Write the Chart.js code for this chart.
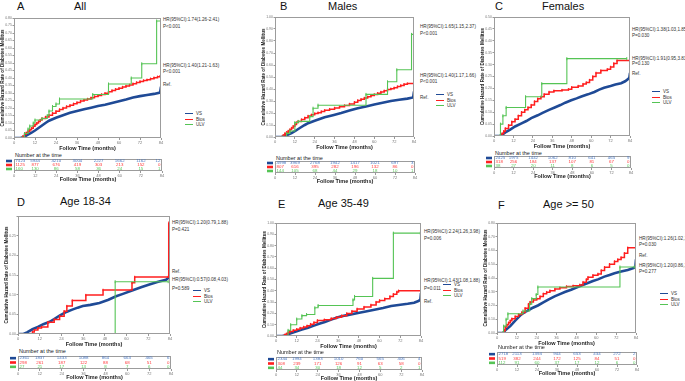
<!DOCTYPE html>
<html>
<head>
<meta charset="utf-8">
<script src="https://cdn.jsdelivr.net/npm/chart.js@4.4.1/dist/chart.umd.min.js"></script>
<style>
  body { margin: 0; background: #fff; width: 685px; height: 381px; overflow: hidden; position: relative; font-family: "Liberation Sans", Arial, sans-serif; }
  canvas { position: absolute; }
  .t { position: absolute; white-space: nowrap; line-height: 1; }
  .big { font-size: 11px; color: #111; }
  .note { font-size: 4.6px; color: #333; }
  .nat { font-size: 5.5px; color: #222; }
  .leg { position: absolute; font-size: 4.5px; color: #333; line-height: 1; white-space: nowrap; }
  .sym { display: inline-block; width: 8px; height: 1px; vertical-align: middle; margin-right: 3px; position: relative; }
</style>
</head>
<body>
<script>
// cumulative hazard curves, [month, rate]
const aVS = [[0,0],[4,0],[6,0.01],[8,0.022],[10,0.035],[12,0.05],[15,0.075],[18,0.1],[20,0.115],[24,0.135],[28,0.152],[32,0.168],[36,0.18],[40,0.192],[44,0.202],[48,0.213],[52,0.222],[56,0.233],[60,0.245],[64,0.256],[68,0.27],[72,0.279],[76,0.287],[80,0.294],[83.5,0.303],[84,0.342]];
const aBio = [[0,0],[4,0],[5,0.01],[6,0.025],[7,0.035],[8,0.045],[9,0.055],[10,0.065],[11,0.078],[12,0.09],[13,0.1],[14,0.11],[15,0.12],[16,0.13],[18,0.14],[20,0.152],[22,0.165],[24,0.178],[26,0.19],[28,0.2],[30,0.21],[32,0.218],[34,0.228],[36,0.237],[38,0.246],[40,0.253],[42,0.26],[44,0.268],[46,0.276],[48,0.283],[50,0.29],[52,0.298],[54,0.308],[56,0.317],[58,0.325],[60,0.332],[62,0.34],[64,0.347],[66,0.354],[68,0.362],[70,0.37],[72,0.377],[74,0.383],[76,0.388],[78,0.395],[80,0.402],[82,0.408],[83.5,0.412],[84,0.47]];
const aULV = [[0,0],[5,0],[6,0.03],[8,0.06],[9,0.08],[11,0.1],[12,0.12],[16,0.13],[19,0.15],[20,0.18],[22,0.21],[24,0.227],[26,0.26],[45,0.29],[54,0.36],[67,0.4],[73,0.495],[81.5,0.78],[84,0.78]];

const bVS = [[0,0],[4,0],[6,0.01],[8,0.02],[10,0.033],[12,0.048],[15,0.075],[18,0.1],[20,0.115],[24,0.135],[27,0.15],[30,0.165],[35,0.182],[40,0.2],[45,0.22],[50,0.24],[55,0.255],[60,0.27],[65,0.285],[70,0.3],[75,0.31],[80,0.32],[83.5,0.33],[84,0.38]];
const bBio = [[0,0],[4,0],[5,0.015],[6,0.03],[7,0.04],[8,0.05],[9,0.062],[10,0.075],[11,0.09],[12,0.105],[13,0.12],[14,0.13],[16,0.145],[18,0.16],[20,0.175],[22,0.185],[24,0.195],[26,0.203],[28,0.212],[30,0.222],[33,0.232],[36,0.242],[39,0.252],[42,0.262],[45,0.275],[48,0.29],[50,0.305],[52,0.315],[54,0.325],[56,0.335],[58,0.345],[60,0.355],[62,0.365],[64,0.375],[66,0.385],[68,0.395],[70,0.402],[72,0.41],[74,0.42],[76,0.43],[78,0.44],[80,0.445],[84,0.445]];
const bULV = [[0,0],[5,0],[7,0.03],[9,0.05],[12,0.12],[14,0.13],[21,0.17],[23,0.24],[26,0.265],[55,0.355],[68,0.46],[73.6,0.56],[82.5,0.855],[84,0.855]];

const cVS = [[0,0],[4,0],[5,0.005],[7,0.015],[10,0.027],[13,0.04],[17,0.053],[20,0.063],[23,0.075],[27,0.087],[30,0.097],[34,0.11],[37.5,0.12],[41,0.13],[44,0.14],[47.7,0.15],[51,0.158],[54,0.166],[58,0.175],[62,0.185],[65,0.195],[68,0.203],[72,0.21],[75,0.216],[78.5,0.222],[81,0.23],[83,0.24],[83.6,0.245],[84,0.265]];
const cBio = [[0,0],[4,0],[5,0.01],[6,0.02],[7,0.032],[9,0.045],[11,0.06],[13,0.07],[15,0.085],[17,0.1],[19,0.11],[21,0.12],[23,0.13],[25,0.145],[27,0.157],[29,0.165],[31,0.175],[34,0.185],[37,0.19],[42,0.193],[46,0.196],[48,0.205],[52,0.21],[55,0.218],[57,0.225],[59,0.235],[61,0.25],[63,0.265],[66,0.275],[70,0.28],[72,0.29],[74,0.305],[76,0.317],[83.7,0.317],[84,0.435]];
const cULV = [[0,0],[3.5,0],[4,0.05],[5.5,0.085],[7.5,0.12],[19.5,0.165],[29.5,0.22],[45,0.325],[82,0.325]];

const dVS = [[0,0],[3,0],[5,0.004],[8,0.012],[11,0.018],[14,0.025],[17.5,0.031],[20,0.038],[23,0.047],[26.7,0.056],[30,0.062],[33,0.067],[35.8,0.071],[40,0.074],[45,0.079],[50,0.087],[54.2,0.096],[58,0.102],[63.4,0.111],[68,0.119],[72.6,0.126],[77,0.132],[81.8,0.138],[84,0.146]];
const dBio = [[0,0],[7,0],[8,0.005],[9,0.01],[11,0.015],[13,0.018],[16.5,0.03],[20,0.037],[23,0.045],[25.5,0.058],[27,0.071],[30,0.085],[37.5,0.099],[47,0.112],[63,0.13],[64.5,0.145],[83,0.145],[83.3,0.283]];
const dULV = [[0,0],[53.7,0.133],[83,0.133]];

const eVS = [[0,0],[4,0],[6,0.01],[9,0.026],[12,0.042],[15,0.058],[18.6,0.074],[22,0.092],[25,0.108],[28.3,0.124],[32,0.145],[35,0.162],[37.9,0.174],[42,0.187],[47.5,0.203],[52,0.217],[57,0.232],[62,0.248],[66.7,0.265],[71,0.275],[76.3,0.285],[80,0.295],[82.5,0.31],[83.6,0.32],[84,0.38]];
const eBio = [[0,0],[4,0],[5,0.01],[6,0.02],[7,0.03],[8,0.04],[10,0.05],[12,0.06],[14,0.07],[16,0.08],[18,0.09],[20,0.105],[22,0.12],[24,0.138],[28,0.144],[32,0.155],[35,0.165],[38,0.18],[41,0.2],[44,0.22],[47,0.24],[51,0.256],[55,0.275],[58,0.3],[60,0.315],[63,0.33],[66,0.35],[68,0.37],[70,0.39],[71,0.4],[84,0.4]];
const eULV = [[0,0],[7,0.05],[8.5,0.1],[12,0.15],[15,0.18],[17.7,0.19],[22.5,0.25],[24.4,0.27],[44.6,0.32],[45.5,0.35],[56,0.51],[68,0.91],[83.6,0.91]];

const fVS = [[0,0],[3.6,0],[5,0.019],[8,0.05],[11,0.09],[14.7,0.135],[18,0.16],[21,0.18],[24.7,0.2],[28,0.222],[31,0.243],[34.8,0.266],[38,0.283],[41,0.298],[44.8,0.314],[48,0.33],[51,0.345],[54.9,0.363],[58,0.378],[61,0.39],[64.9,0.41],[68,0.422],[71,0.435],[75,0.447],[79,0.458],[83,0.474],[83.6,0.476],[84,0.535]];
const fBio = [[0,0],[3.6,0],[4.5,0.02],[5,0.043],[6,0.06],[7,0.075],[8,0.09],[9,0.104],[11,0.12],[13,0.135],[15,0.15],[17,0.18],[19,0.21],[20,0.225],[22,0.24],[24,0.25],[26,0.265],[28,0.285],[30,0.297],[32,0.308],[35,0.32],[38,0.33],[42,0.338],[46,0.343],[50,0.35],[52,0.37],[54,0.39],[55,0.406],[58,0.42],[61,0.43],[63,0.455],[65,0.478],[68,0.5],[71,0.52],[73,0.535],[75,0.55],[77,0.58],[79,0.62],[84,0.624]];
const fULV = [[0,0],[3.6,0],[4,0.05],[5.5,0.1],[6.6,0.14],[15.7,0.16],[19.7,0.21],[21,0.25],[23.7,0.28],[24.7,0.335],[74.3,0.48],[83,0.48]];

// number at risk
const riskTimes = [0, 12, 24, 36, 48, 60, 72, 84];
const aRisk = [[7423,5944,4210,3004,2227,1662,1162,12],[1125,877,676,419,303,213,152,0],[160,130,86,58,36,24,15,1]];
const bRisk = [[4998,3969,2768,1942,1417,1021,697,3],[807,616,395,282,196,132,86,0],[144,105,68,44,29,18,10,1]];
const cRisk = [[2425,1975,1442,1062,810,641,465,9],[318,256,184,137,107,81,67,0],[38,27,20,11,8,6,5,0]];
const dRisk = [[2361,1837,1433,1088,864,663,465,6],[298,261,187,122,88,68,51,0],[27,21,17,13,8,7,6,0]];
const eRisk = [[2344,1994,1383,1010,760,565,406,4],[308,239,171,126,91,63,58,0],[44,34,30,18,12,5,2,1]];
const fRisk = [[2718,2113,1394,944,653,434,272,2],[519,382,244,172,125,84,51,0],[112,91,60,37,17,12,6,0]];

const groups = ['VS', 'Bios', 'ULV'];
const lineColors = ['#1f4a96', '#ff1f1f', '#55c455'];
const numColors = ['#4b78c2', '#ff3a3a', '#5cc85c'];

const panels = [
  { letter: 'A', name: 'All', L: 14, R: 162, T: 17, B: 138, yMax: 0.8, curves: [aVS, aBio, aULV], risk: aRisk,
    letterAt: [17, 1], nameAt: [74, 1], noteX: 163,
    notes: [[18, 'HR(95%CI):1.74(1.26-2.41)'], [25, 'P<0.001'], [64, 'HR(95%CI):1.40(1.21-1.63)'], [70, 'P<0.001'], [83, 'Ref.']],
    legAt: [185, 112], table: [153, 159, 171] },
  { letter: 'B', name: 'Males', L: 275, R: 415, T: 16, B: 137, yMax: 1.0, curves: [bVS, bBio, bULV], risk: bRisk,
    letterAt: [280, 1], nameAt: [328, 1], noteX: 420,
    notes: [[25, 'HR(95%CI):1.65(1.15,2.37)'], [32, 'P<0.001'], [74, 'HR(95%CI):1.40(1.17,1.66)'], [80, 'P<0.001'], [96, 'Ref.']],
    legAt: [436, 93], table: [156, 161, 173] },
  { letter: 'C', name: 'Females', L: 494, R: 631, T: 16, B: 136, yMax: 0.5, curves: [cVS, cBio, cULV], risk: cRisk,
    letterAt: [495, 1], nameAt: [542, 1], noteX: 632,
    notes: [[28, 'HR(95%CI):1.38(1.03,1.85)'], [34, 'P=0.030'], [57, 'HR(95%CI):1.91(0.95,3.83)'], [62, 'P=0.130'], [72, 'Ref.']],
    legAt: [652, 90], table: [151, 156, 168] },
  { letter: 'D', name: 'Age 18-34', L: 18, R: 171, T: 215, B: 334, yMax: 0.3, labelTop: 0.25, curves: [dVS, dBio, dULV], risk: dRisk,
    letterAt: [17, 197], nameAt: [60, 196], noteX: 172,
    notes: [[221, 'HR(95%CI):1.20(0.79,1.88)'], [228, 'P=0.421'], [270, 'Ref.'], [278, 'HR(95%CI):0.57(0.08,4.03)'], [287, 'P=0.589']],
    legAt: [193, 289], table: [349, 356, 369] },
  { letter: 'E', name: 'Age 35-49', L: 276, R: 422, T: 222, B: 336, yMax: 1.0, curves: [eVS, eBio, eULV], risk: eRisk,
    letterAt: [278, 199], nameAt: [318, 198], noteX: 424,
    notes: [[230, 'HR(95%CI):2.24(1.26,3.98)'], [237, 'P=0.006'], [279, 'HR(95%CI):1.43(1.08,1.88)'], [287, 'P=0.011'], [300, 'Ref.']],
    legAt: [443, 283], table: [350, 357, 370] },
  { letter: 'F', name: 'Age >= 50', L: 497, R: 637, T: 222, B: 333, yMax: 0.8, curves: [fVS, fBio, fULV], risk: fRisk,
    letterAt: [498, 200], nameAt: [543, 199], noteX: 639,
    notes: [[237, 'HR(95%CI):1.26(1.02,1.60)'], [243, 'P=0.030'], [254, 'Ref.'], [264, 'HR(95%CI):1.20(0.86,1.67)'], [270, 'P=0.277']],
    legAt: [660, 292], table: [345, 352, 365] }
];

Chart.defaults.font.family = '"Liberation Sans", Arial, sans-serif';
Chart.defaults.animation = false;

function addText(cls, x, y, txt) {
  const d = document.createElement('div');
  d.className = 't ' + cls;
  d.style.left = x + 'px';
  d.style.top = y + 'px';
  d.textContent = txt;
  document.body.appendChild(d);
}

function addCanvas(x, y, w, h) {
  const c = document.createElement('canvas');
  c.width = w; c.height = h;
  c.style.left = x + 'px'; c.style.top = y + 'px';
  document.body.appendChild(c);
  return c;
}

const frame = {
  id: 'frame',
  afterDraw(chart) {
    const a = chart.chartArea, c = chart.ctx;
    c.save();
    c.strokeStyle = '#9c9c9c';
    c.lineWidth = 1;
    c.strokeRect(Math.round(a.left) + 0.5, Math.round(a.top) + 0.5, Math.round(a.right - a.left) - 1, Math.round(a.bottom - a.top) - 1);
    c.restore();
  }
};

const xAxis = (h) => ({
  type: 'linear', min: 0, max: 84,
  grid: { display: true, drawOnChartArea: false, tickLength: 2, color: '#999' },
  border: { display: false },
  ticks: { stepSize: 12, font: { size: 4 }, color: '#777', padding: 0, maxRotation: 0 },
  title: { display: true, text: 'Follow Time (months)', font: { size: 5.5, weight: 'bold' }, color: '#222', padding: 0 },
  afterFit: (s) => { s.height = h; }
});

panels.forEach(p => {
  addText('big', p.letterAt[0], p.letterAt[1], p.letter);
  addText('big', p.nameAt[0], p.nameAt[1], p.name);
  p.notes.forEach(n => addText('note', p.noteX, n[0], n[1]));

  // legend
  groups.forEach((g, i) => {
    const d = document.createElement('div');
    d.className = 'leg';
    d.style.left = p.legAt[0] + 'px';
    d.style.top = (p.legAt[1] + i * 5.5) + 'px';
    d.innerHTML = '<span class="sym" style="background:' + lineColors[i] + '"></span>' + g;
    document.body.appendChild(d);
  });

  // curve plot
  const padL = Math.min(14, p.L), padT = 4, padR = 4, padB = 14;
  const cv = addCanvas(p.L - padL, p.T - padT, p.R - p.L + padL + padR, p.B - p.T + padT + padB);
  new Chart(cv, {
    type: 'line',
    data: {
      datasets: p.curves.map((c, i) => ({
        label: groups[i],
        data: c.map(v => ({ x: v[0], y: v[1] })),
        borderColor: lineColors[i],
        backgroundColor: lineColors[i],
        borderWidth: [2.6, 1.5, 1.1][i],
        stepped: i === 0 ? false : true,
        pointStyle: 'line',
        rotation: 90,
        pointRadius: [0, 1.2, 1.5][i],
        pointBorderWidth: 1,
        fill: false,
        order: 3 - i
      }))
    },
    options: {
      responsive: false,
      layout: { padding: { left: 0, top: padT, right: padR, bottom: 0 } },
      plugins: { legend: { display: false }, tooltip: { enabled: false } },
      scales: {
        x: xAxis(padB),
        y: {
          type: 'linear', min: 0, max: p.yMax,
          grid: { display: true, drawOnChartArea: false, tickLength: 1.5, color: '#999' },
          border: { display: false },
          ticks: {
            stepSize: 0.05, font: { size: 3.5 }, color: '#777', padding: 0.5,
            callback: (v) => (p.labelTop !== undefined && v > p.labelTop + 1e-6) ? '' : v.toFixed(2)
          },
          title: { display: true, text: 'Cumulative Hazard Rate of Diabetes Mellitus', font: { size: 4.6, weight: 'bold' }, color: '#222', padding: 0 },
          afterFit: (s) => { s.width = padL; }
        }
      }
    },
    plugins: [frame]
  });

  // number at risk table
  const [natY, boxT, boxB] = p.table;
  addText('nat', p.L + 1, natY, 'Number at the time');
  const tL = 10, tB = 12;
  const tv = addCanvas(p.L - tL, boxT - 1, p.R - p.L + tL + 4, boxB - boxT + 1 + tB);
  const rows = p.risk;
  new Chart(tv, {
    type: 'line',
    data: { datasets: [] },
    options: {
      responsive: false,
      layout: { padding: { left: tL, top: 1, right: 4, bottom: 0 } },
      plugins: { legend: { display: false }, tooltip: { enabled: false } },
      scales: {
        x: xAxis(tB),
        y: { type: 'category', labels: groups, display: false, offset: true }
      }
    },
    plugins: [frame, {
      id: 'riskRows',
      afterDraw(chart) {
        const c = chart.ctx, x = chart.scales.x, y = chart.scales.y;
        c.save();
        c.font = '4.4px "Liberation Sans", Arial, sans-serif';
        c.textBaseline = 'middle';
        rows.forEach((row, i) => {
          const py = y.getPixelForValue(i);
          c.fillStyle = lineColors[i];
          c.fillRect(2, py - 1.3, 6, 2.6);
          c.fillStyle = numColors[i];
          row.forEach((n, j) => {
            const last = j === row.length - 1;
            c.textAlign = j === 0 ? 'left' : last ? 'right' : 'center';
            c.fillText(String(n), x.getPixelForValue(riskTimes[j]) + (j === 0 ? 1.5 : last ? -1.5 : 0), py);
          });
        });
        c.restore();
      }
    }]
  });
});
</script>
</body>
</html>
